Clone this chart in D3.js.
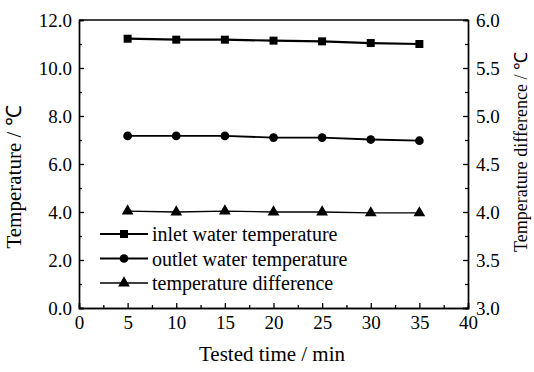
<!DOCTYPE html>
<html>
<head>
<meta charset="utf-8">
<script src="https://cdn.jsdelivr.net/npm/d3@7"></script>
<style>
  body { margin: 0; background: #fff; }
</style>
</head>
<body>
<svg></svg>
<script>
// values
let times = [5, 10, 15, 20, 25, 30, 35],
    inletTemp = [11.22, 11.18, 11.18, 11.14, 11.11, 11.04, 11.0],
    outletTemp = [7.17, 7.17, 7.17, 7.10, 7.10, 7.02, 6.97],
    tempDiff = [4.01, 4.0, 4.01, 4.0, 4.0, 3.99, 3.99],
    xTicks = [0, 5, 10, 15, 20, 25, 30, 35, 40],
    leftTicks = [0, 2, 4, 6, 8, 10, 12],
    rightTicks = [3.0, 3.5, 4.0, 4.5, 5.0, 5.5, 6.0],
    legendNames = ["inlet water temperature", "outlet water temperature", "temperature difference"];

let serif = "Liberation Serif";

let svg = d3.select("svg").attr("width", 534).attr("height", 372)
        .attr("font-family", serif),
    margin = {top: 20, right: 66, bottom: 64, left: 79},
    width = 534 - margin.left - margin.right,
    height = 372 - margin.top - margin.bottom,
    g = svg.append("g").attr("transform", "translate(" + margin.left + "," + margin.top + ")");

let x = d3.scaleLinear().domain([0, 40]).range([0, width]),
    yL = d3.scaleLinear().domain([0, 12]).range([height, 0]),
    yR = d3.scaleLinear().domain([3, 6]).range([height, 0]);

// minor ticks first
g.append("g")
    .attr("transform", "translate(0," + height + ")")
    .call(d3.axisBottom(x).tickValues(d3.range(2.5, 40, 5)).tickSize(-3).tickFormat(""));
g.append("g")
    .call(d3.axisLeft(yL).tickValues(d3.range(1, 12, 2)).tickSize(-3).tickFormat(""));
g.append("g")
    .attr("transform", "translate(" + width + ",0)")
    .call(d3.axisRight(yR).tickValues(d3.range(3.25, 6, 0.5)).tickSize(-3).tickFormat(""));

// major axes
g.append("g")
    .attr("class", "axis")
    .attr("transform", "translate(0," + height + ")")
    .call(d3.axisBottom(x).tickValues(xTicks).tickSize(-5).tickPadding(8).tickFormat(d3.format("d")));

g.append("g")
    .attr("class", "axis")
    .call(d3.axisLeft(yL).tickValues(leftTicks).tickSize(-5).tickPadding(7).tickFormat(d3.format(".1f")));

g.append("g")
    .attr("class", "axis")
    .attr("transform", "translate(" + width + ",0)")
    .call(d3.axisRight(yR).tickValues(rightTicks).tickSize(-5).tickPadding(8).tickFormat(d3.format(".1f")));

// top frame line
g.append("line")
    .attr("x1", 0).attr("x2", width)
    .attr("y1", 0).attr("y2", 0)
    .attr("stroke", "#000").attr("stroke-width", 1.4);

g.selectAll("g").attr("font-family", serif);
g.selectAll(".domain").attr("stroke", "#000").attr("stroke-width", 1.4);
g.selectAll(".tick line").attr("stroke", "#000").attr("stroke-width", 1.3);
g.selectAll(".axis .tick text").attr("fill", "#000").style("font-size", "19px");

let series = [
    {name: legendNames[0], values: inletTemp, scale: yL, sym: d3.symbolSquare, size: 64, w: 2.2},
    {name: legendNames[1], values: outletTemp, scale: yL, sym: d3.symbolCircle, size: 60, w: 1.8},
    {name: legendNames[2], values: tempDiff, scale: yR, sym: d3.symbolTriangle, size: 60, w: 1.3}
];

series.forEach(function (s) {
    let line = d3.line()
        .x(function (d, i) { return x(times[i]); })
        .y(function (d) { return s.scale(d); });

    g.append("path")
        .datum(s.values)
        .attr("d", line)
        .attr("fill", "none")
        .attr("stroke", "#000")
        .attr("stroke-width", s.w);

    g.selectAll(null)
        .data(s.values)
        .enter().append("path")
        .attr("d", d3.symbol().type(s.sym).size(s.size))
        .attr("transform", function (d, i) { return "translate(" + x(times[i]) + "," + s.scale(d) + ")"; })
        .attr("fill", "#000");
});

// legend
let legend = g.append("g").attr("transform", "translate(21,214)");
series.forEach(function (s, i) {
    let row = legend.append("g").attr("transform", "translate(0," + (i * 24.5) + ")");
    row.append("line")
        .attr("x1", 0).attr("x2", 48)
        .attr("stroke", "#000").attr("stroke-width", s.w);
    row.append("path")
        .attr("d", d3.symbol().type(s.sym).size(s.size))
        .attr("transform", "translate(24,0)")
        .attr("fill", "#000");
    row.append("text")
        .attr("x", 52)
        .attr("dy", "0.35em")
        .style("font-size", "20px")
        .text(s.name);
});

// axis titles
svg.append("text")
    .text("Tested time / min")
    .attr("x", 272)
    .attr("y", 361)
    .attr("text-anchor", "middle")
    .style("font-size", "21px");

svg.append("text")
    .text("Temperature / \u2103")
    .attr("transform", "translate(21,177) rotate(-90)")
    .attr("text-anchor", "middle")
    .style("font-size", "21px");

svg.append("text")
    .text("Temperature difference / \u2103")
    .attr("transform", "translate(527,152) rotate(-90)")
    .attr("text-anchor", "middle")
    .style("font-size", "18px");
</script>
</body>
</html>
